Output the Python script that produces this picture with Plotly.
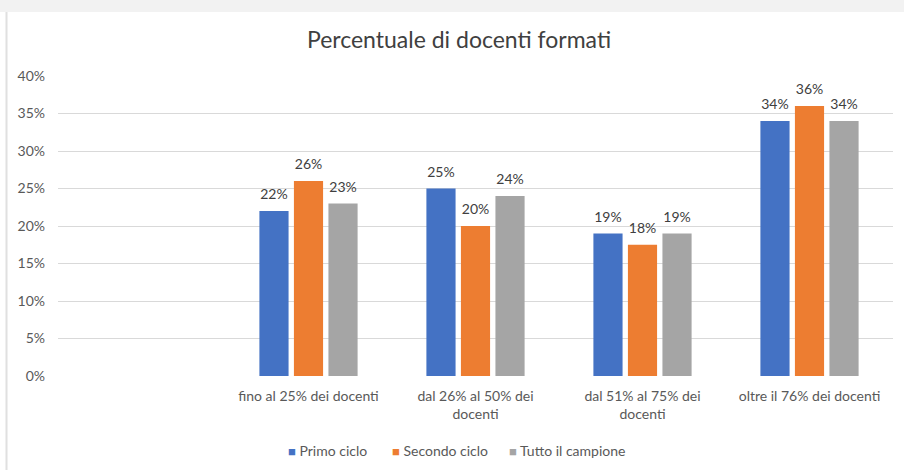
import math
import plotly.graph_objects as go

categories = [
    "fino al 25% dei docenti",
    "dal 26% al 50% dei<br>docenti",
    "dal 51% al 75% dei<br>docenti",
    "oltre il 76% dei docenti",
]
series_names = ["Primo ciclo", "Secondo ciclo", "Tutto il campione"]
primo_ciclo = [22, 25, 19, 34]
secondo_ciclo = [26, 20, 17.5, 36]
tutto_campione = [23, 24, 19, 34]
colors = ["#4472C4", "#ED7D31", "#A5A5A5"]
y_ticks = [0, 5, 10, 15, 20, 25, 30, 35, 40]
y_tick_labels = [f"{v}%" for v in y_ticks]

FONT = "Lato, Carlito, 'Open Sans', sans-serif"

# positions: slot 0 is an empty category, data occupy slots 1..4
positions = list(range(1, len(categories) + 1))


def lab(v):
    # label plus a small blank line to add padding above the bar
    return f"<span style='font-size:14px'>{int(math.floor(v + 0.5))}%</span><br> "


fig = go.Figure()
for name, vals, col in zip(series_names, [primo_ciclo, secondo_ciclo, tutto_campione], colors):
    fig.add_trace(go.Bar(
        x=positions, y=vals, name=name,
        marker=dict(color=col, line=dict(width=0)),
        text=[lab(v) for v in vals], textposition="outside",
        textfont=dict(family=FONT, size=6, color="#404040"),
        cliponaxis=False, showlegend=False,
    ))

W, H = 904, 470
L, R, T, B = 58, 11, 76, 94
pw, ph = W - L - R, H - T - B

def px_x(x):
    return (x - L) / pw

def px_y(y):
    return (H - B - y) / ph

# custom legend (square + text), left positions in pixels
legend_x = [286, 390, 507]
annotations = []
for name, col, lx in zip(series_names, colors, legend_x):
    annotations.append(dict(
        text=f"<span style='color:{col};font-size:13px'>■</span> {name}",
        xref="paper", yref="paper", x=px_x(lx), y=px_y(450),
        xanchor="left", yanchor="middle", showarrow=False,
        font=dict(family=FONT, size=14, color="#595959"),
    ))

fig.update_layout(
    width=W, height=H,
    margin=dict(l=L, r=R, t=T, b=B),
    paper_bgcolor="white", plot_bgcolor="white",
    font=dict(family=FONT, color="#595959", size=14),
    title=dict(text="Percentuale di docenti formati", x=459 / W, xanchor="center",
               y=1 - 40 / H, yanchor="middle", xref="container", yref="container",
               font=dict(family=FONT, size=23, color="#404040")),
    barmode="group", bargap=0.38, bargroupgap=0.155,
    showlegend=False,
    annotations=annotations,
    xaxis=dict(range=[-0.5, len(categories) + 0.5], tickmode="array",
               tickvals=positions, ticktext=categories, showgrid=False,
               zeroline=False, showline=False, ticks="",
               ticklabelstandoff=10,
               tickfont=dict(family=FONT, size=14, color="#595959")),
    yaxis=dict(range=[0, 40], tickmode="array", tickvals=y_ticks, ticktext=y_tick_labels,
               showgrid=True, gridcolor="#D9D9D9", gridwidth=1,
               zeroline=False, showline=False, ticks="",
               ticklabelstandoff=12,
               tickfont=dict(family=FONT, size=14, color="#595959")),
    shapes=[
        dict(type="rect", xref="paper", yref="paper",
             x0=px_x(0), x1=px_x(W), y0=px_y(12), y1=px_y(0),
             fillcolor="#F2F2F2", line=dict(width=0), layer="below"),
        dict(type="line", xref="paper", yref="paper",
             x0=px_x(6.5), x1=px_x(6.5), y0=px_y(H), y1=px_y(12),
             line=dict(color="#E0E0E0", width=2)),
    ],
)

fig.write_html("out.html")
